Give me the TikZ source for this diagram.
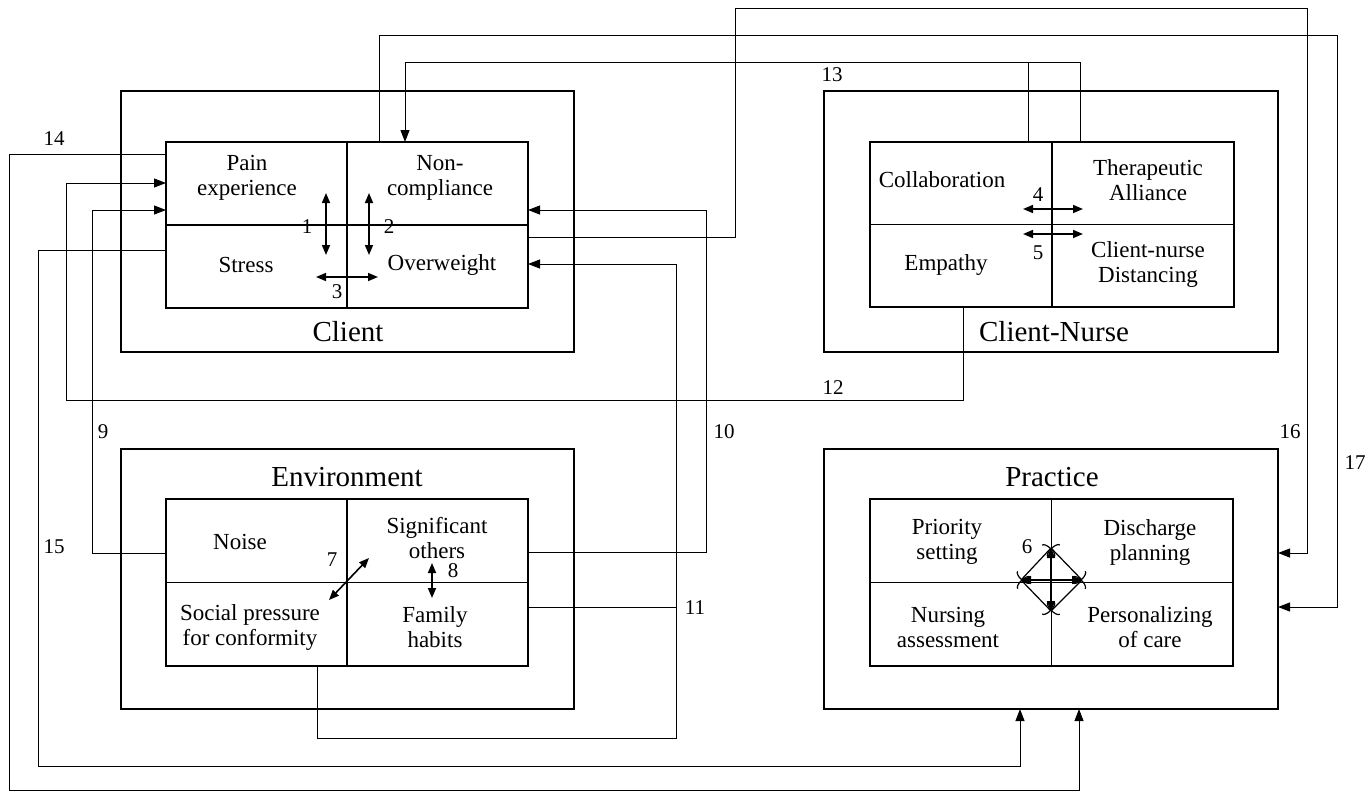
\documentclass[tikz,border=0pt]{standalone}
\usepackage{fontspec}
\setmainfont{Liberation Serif}
\usetikzlibrary{arrows.meta}
\begin{document}
\begin{tikzpicture}[x=0.5pt,y=-0.5pt,
  outerbox/.style={draw, line width=1.4pt, inner sep=0pt, outer sep=0pt},
  innerbox/.style={draw, line width=1.2pt, inner sep=0pt, outer sep=0pt},
  divider/.style={line width=0.6pt},
  cell/.style={align=center, font=\fontsize{11.5}{12.5}\selectfont, inner sep=0pt},
  boxtitle/.style={font=\fontsize{14.5}{16}\selectfont, inner sep=0pt},
  num/.style={font=\fontsize{10.5}{12}\selectfont, inner sep=0pt},
  conn/.style={line width=0.5pt},
  tip/.style={-{Triangle[length=6pt,width=4.5pt]}},
  rel/.style={line width=0.8pt, {Triangle[length=5pt,width=4pt]}-{Triangle[length=5pt,width=4pt]}},
  relarc/.style={line width=0.6pt, {Arc Barb[length=2pt,width=9pt]}-{Arc Barb[length=2pt,width=9pt]}},
]
\useasboundingbox (0,0) rectangle (1370,793);

% ---------- boxes ----------
\node[outerbox, minimum width=226.5pt, minimum height=130.5pt] (co) at (347.5,221.5) {};
\node[innerbox, minimum width=181pt, minimum height=83pt] (ci) at (347,225) {};
\node[outerbox, minimum width=227pt, minimum height=130.5pt] (cno) at (1051,221.5) {};
\node[innerbox, minimum width=182pt, minimum height=82.5pt] (cni) at (1052,224.5) {};
\node[outerbox, minimum width=226.5pt, minimum height=130pt] (eo) at (347.5,579) {};
\node[innerbox, minimum width=181pt, minimum height=83.5pt] (ei) at (347,582.5) {};
\node[outerbox, minimum width=227pt, minimum height=130pt] (po) at (1051,579) {};
\node[innerbox, minimum width=181.5pt, minimum height=83.5pt] (pi) at (1051.5,582.5) {};

\foreach \b in {ci,cni,ei,pi}{
  \draw[divider] (\b.north) -- (\b.south);
  \draw[divider] (\b.west) -- (\b.east);
}

% ---------- titles ----------
\node[boxtitle] (tClient) at (348,332) {Client};
\node[boxtitle] (tCN) at (1054,332) {Client-Nurse};
\node[boxtitle] (tEnv) at (347,477) {Environment};
\node[boxtitle] (tPra) at (1052,477) {Practice};

% ---------- cells ----------
\node[cell] (pain) at (247,178) {Pain\\experience};
\node[cell] (noncomp) at (440,178) {Non-\\compliance};
\node[cell] (stress) at (246,265) {Stress};
\node[cell] (overw) at (442,265) {Overweight};

\node[cell] (collab) at (942,180) {Collaboration};
\node[cell] (therap) at (1148,180) {Therapeutic\\Alliance};
\node[cell] (empathy) at (946,265) {Empathy};
\node[cell] (distanc) at (1148,264) {Client-nurse\\Distancing};

\node[cell] (noise) at (240,542) {Noise};
\node[cell] (signif) at (437,538) {Significant\\others};
\node[cell] (social) at (250,627) {Social pressure\\for conformity};
\node[cell] (family) at (435,627) {Family\\habits};

\node[cell] (prio) at (947,542) {Priority\\setting};
\node[cell] (disch) at (1150,542) {Discharge\\planning};
\node[cell] (nursass) at (948,627) {Nursing\\assessment};
\node[cell] (person) at (1150,627) {Personalizing\\of care};

% ---------- relations inside boxes ----------
\coordinate (r1a) at (326,193); \coordinate (r1b) at (326,255);
\coordinate (r2a) at (369,193); \coordinate (r2b) at (369,255);
\coordinate (r3a) at (316,277); \coordinate (r3b) at (378,277);
\draw[rel] (r1a) -- (r1b);
\draw[rel] (r2a) -- (r2b);
\draw[rel] (r3a) -- (r3b);
\node[num] (n1) at (307,227) {1};
\node[num] (n2) at (389,227) {2};
\node[num] (n3) at (337,292) {3};

\coordinate (r4a) at (1023,209); \coordinate (r4b) at (1083,209);
\coordinate (r5a) at (1023,234); \coordinate (r5b) at (1083,234);
\draw[rel] (r4a) -- (r4b);
\draw[rel] (r5a) -- (r5b);
\node[num] (n4) at (1038,195) {4};
\node[num] (n5) at (1038,253) {5};

\coordinate (r7a) at (329,600); \coordinate (r7b) at (369,558);
\coordinate (r8a) at (432,563); \coordinate (r8b) at (432,598);
\draw[rel] (r7a) -- (r7b);
\draw[rel] (r8a) -- (r8b);
\node[num] (n7) at (332,560) {7};
\node[num] (n8) at (453,571) {8};

\coordinate (dT) at (1051,548); \coordinate (dB) at (1051,611);
\coordinate (dL) at (1021,580); \coordinate (dR) at (1082,580);
\draw[rel] (dT) -- (dB);
\draw[rel] (dL) -- (dR);
\draw[relarc] (dT) -- (dR);
\draw[relarc] (dR) -- (dB);
\draw[relarc] (dB) -- (dL);
\draw[relarc] (dL) -- (dT);
\node[num] (n6) at (1027,547) {6};

% ---------- connectors ----------
% 14
\draw[conn,tip] (ci.west |- 0,154) -| (9,790) -| (po.south -| 1079,0);
% 15
\draw[conn,tip] (ci.west |- 0,250) -| (38,766) -| (po.south -| 1020,0);
% 12
\draw[conn,tip] (cni.south -| 963,0) |- (66,400) |- (ci.west |- 0,183);
% 9
\draw[conn,tip] (ei.west |- 0,553) -| (92,210) -- (ci.west |- 0,210);
% 10
\draw[conn,tip] (ei.east |- 0,552) -| (706,210) -- (ci.east |- 0,210);
% 11
\draw[conn,tip] (ei.south -| 317,0) |- (676,738) |- (ci.east |- 0,264);
\draw[conn] (ei.east |- 0,607) -- (676,607);
% 16
\draw[conn,tip] (ci.east |- 0,237) -| (735,8) -| (1307,553) -- (po.east |- 0,553);
% 17
\draw[conn,tip] (ci.north -| 379,0) |- (1337,35) |- (po.east |- 0,607);
% 13
\draw[conn,tip] (cni.north -| 1080,0) |- (405,62) -- (ci.north -| 405,0);
\draw[conn] (cni.north -| 1028,0) -- (1028,62);

% ---------- connector labels ----------
\node[num] (n14) at (54,139) {14};
\node[num] (n15) at (54,547) {15};
\node[num] (n9) at (103,432) {9};
\node[num] (n12) at (833,388) {12};
\node[num] (n13) at (832,75) {13};
\node[num] (n10) at (724,432) {10};
\node[num] (n11) at (695,608) {11};
\node[num] (n16) at (1290,432) {16};
\node[num] (n17) at (1355,463) {17};
\end{tikzpicture}
\end{document}
